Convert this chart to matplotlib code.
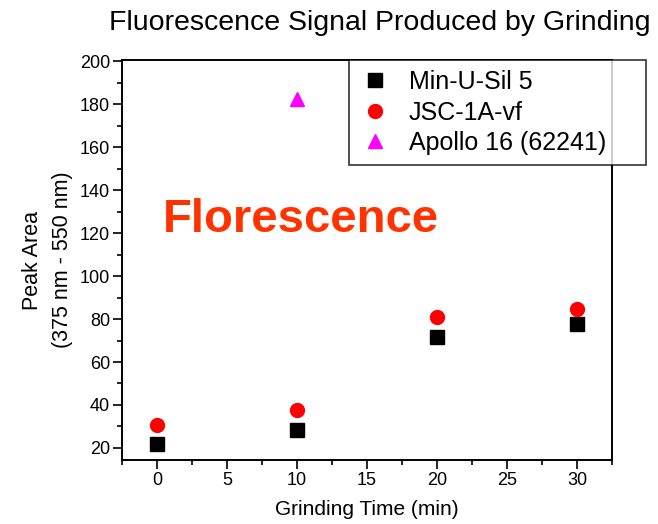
import numpy as np
import matplotlib
matplotlib.use("Agg")
from matplotlib import pyplot as plt
from matplotlib.ticker import MultipleLocator

plt.rcParams['font.family'] = ['Liberation Sans', 'DejaVu Sans']

# grinding time (min) and peak area for each sample
grindTime = [0, 10, 20, 30]
minUSil = [22, 28.5, 71.5, 77.5]
jscVf = [30.5, 37.8, 80.8, 84.8]
apolloTime = [10]
apollo = [182.3]

fig = plt.figure(figsize=(6.58, 5.24), dpi=100)
ax = fig.add_axes([0.1854, 0.1221, 0.7446, 0.7634])

ax.plot(grindTime, minUSil, linestyle='None', marker='s', markersize=9.5,
        color='black', label='Min-U-Sil 5')
ax.plot(grindTime, jscVf, linestyle='None', marker='o', markersize=10,
        color='#ff0000', markeredgecolor='#ff0000', label='JSC-1A-vf')
ax.plot(apolloTime, apollo, linestyle='None', marker='^', markersize=10,
        color='#ff00ff', label='Apollo 16 (62241)')

ax.set_xlim(-2.5, 32.5)
ax.set_ylim(14.4, 200.5)
ax.xaxis.set_major_locator(MultipleLocator(5))
ax.xaxis.set_minor_locator(MultipleLocator(2.5))
ax.yaxis.set_major_locator(MultipleLocator(20))
ax.yaxis.set_minor_locator(MultipleLocator(10))
ax.set_yticks(np.arange(20, 201, 20))
ax.tick_params(which='major', direction='out', length=6.5, width=1.2,
               labelsize=13, pad=2)
ax.tick_params(which='minor', direction='out', length=3.5, width=1.2)
for s in ax.spines.values():
    s.set_linewidth(1.4)

ax.set_xlabel('Grinding Time (min)', fontsize=15, labelpad=8)
ax.set_ylabel('Peak Area\n(375 nm - 550 nm)', fontsize=15.5, labelpad=5,
              linespacing=1.55)
fig.text(0.577, 1 - 23/524, 'Fluorescence Signal Produced by Grinding',
         fontsize=20.5, ha='center', va='center')

ax.text(0.083, 0.60, 'Florescence', transform=ax.transAxes, fontsize=34,
        fontweight='bold', color='#ff3300', va='center', ha='left')

leg = ax.legend(loc='upper left',
                bbox_to_anchor=(349/658, 1 - 60/524, (646 - 349)/658, 0),
                bbox_transform=fig.transFigure, mode='expand', fontsize=18,
                frameon=True, fancybox=False, edgecolor='black',
                handletextpad=0.7, borderpad=0.4, labelspacing=0.26,
                handlelength=1.3, borderaxespad=0)
leg.get_frame().set_linewidth(1.2)

fig.savefig('out.png', dpi=100)
